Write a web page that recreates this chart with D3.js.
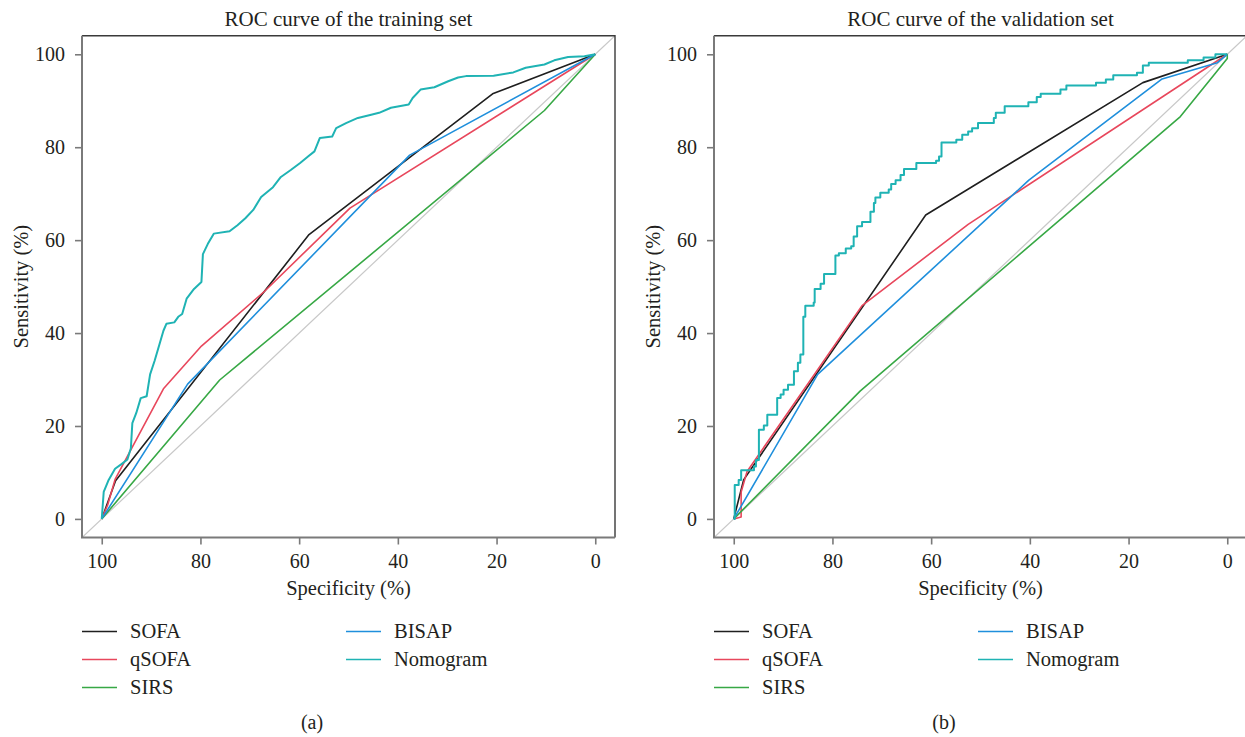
<!DOCTYPE html>
<html>
<head>
<meta charset="utf-8">
<script src="https://cdn.jsdelivr.net/npm/d3@7"></script>
<style>
  body { margin: 0; background: #fff; }
  svg { display: block; }
  text { font-family: "Liberation Serif", "Times New Roman", serif; fill: #231f20; }
</style>
</head>
<body>
<div id="chart"></div>
<script>
// Values: [specificity %, sensitivity %]
const seriesNames = ["SOFA", "qSOFA", "SIRS", "BISAP", "Nomogram"]
const seriesColors = ["#1f1f1f", "#e8475c", "#37a845", "#1f8fdc", "#1fb3b4"]
const xTicks = [100, 80, 60, 40, 20, 0]
const yTicks = [0, 20, 40, 60, 80, 100]
const panelTitles = ["ROC curve of the training set", "ROC curve of the validation set"]
const panelCaptions = ["(a)", "(b)"]

// training set
const trainSOFA = [[100, 0], [97.2, 8.2], [58, 61.2], [20.8, 91.5], [0, 100]]
const trainQSOFA = [[100, 0], [98.8, 3], [97.3, 8.5], [87.5, 28], [79.8, 37.2], [67, 49], [49.7, 66.9], [0, 100]]
const trainSIRS = [[100, 0], [76.1, 29.9], [10.3, 87.9], [0, 100]]
const trainBISAP = [[100, 0], [82.6, 29], [37.6, 78.3], [0, 100]]
const trainNomogram = [[100, 0], [99.6, 5.8], [98.6, 8.4], [97.3, 10.8], [96, 11.8], [94.8, 12.8],
  [94.1, 15.2], [93.8, 20.6], [93, 22.8], [92.1, 26], [90.9, 26.4], [90.2, 31.1], [89.3, 34],
  [88.3, 37.6], [87.5, 40.5], [86.9, 42], [85.3, 42.3], [84.5, 43.5], [83.7, 44.1], [82.8, 47.4],
  [81.3, 49.5], [79.8, 51], [79.5, 57], [78.5, 59.2], [77.3, 61.4], [74.1, 61.9], [72.5, 63.2],
  [70.9, 64.7], [69.3, 66.5], [67.7, 69.3], [65.3, 71.4], [63.7, 73.6], [61.7, 75.1], [59.8, 76.6],
  [58.2, 78], [56.9, 79.1], [55.8, 82], [53.3, 82.3], [52.5, 84.1], [50.5, 85.2], [48.1, 86.3],
  [45.4, 87], [43.8, 87.4], [41.4, 88.5], [37.8, 89.2], [37, 90.6], [35.4, 92.4], [32.6, 92.9],
  [29.8, 94.2], [27.8, 95], [26.2, 95.3], [20.6, 95.4], [16.6, 96.1], [14.1, 97.1], [10.3, 97.8],
  [8.3, 98.7], [5.5, 99.4], [2.2, 99.6], [0, 100]]

// validation set
const valSOFA = [[100, 0], [98, 8.4], [61.1, 65.4], [17.1, 93.9], [0, 100]]
const valQSOFA = [[100, 0], [98.5, 0.4], [98.5, 5.8], [97.3, 10.2], [74, 45.9], [52.5, 63.4], [0, 100]]
const valSIRS = [[100, 0], [74.4, 27.5], [9.5, 86.6], [0, 99.1], [0, 100]]
const valBISAP = [[100, 0], [83, 31.1], [40.2, 72.9], [13.2, 94.7], [2, 98.2], [0, 100]]
const valNomogram = [[100, 0], [99.8, 7.3], [99, 8.4], [98.5, 10.5], [95.9, 11.3], [95.5, 12.7],
  [94.9, 19.2], [93.9, 20.1], [93.2, 22.4], [91.2, 26], [90.5, 26.8], [89.9, 27.8], [89, 28.9],
  [87.8, 31.8], [87, 33.6], [86.5, 35.4], [85.9, 43.5], [85.5, 45.9], [83.8, 46.6], [83.6, 49.5],
  [82.4, 50.6], [81.7, 52.7], [79.4, 56.7], [78.7, 57.2], [77.3, 58.2], [76.2, 58.7], [75.7, 60.8],
  [75, 63], [74, 63.9], [72.3, 66.1], [71.6, 68], [71.3, 69.2], [70.3, 70.2], [68.6, 70.9],
  [68.1, 72.1], [67.2, 72.9], [66.2, 74], [65.5, 75.3], [63, 76.6], [59, 77.1], [58.4, 78],
  [57.9, 81], [54.9, 81.6], [53.7, 82.7], [52.5, 83.4], [51.7, 84.1], [50.5, 85.2], [47.3, 86.3],
  [46.9, 87.4], [45.1, 88.8], [40.3, 89.7], [38.6, 90.8], [37.8, 91.5], [33.8, 92.4], [32.6, 93.3],
  [26.6, 93.9], [24.6, 94.6], [23.1, 95.5], [18.3, 96], [17.1, 97.6], [15.9, 98.2], [8, 98.7],
  [4.8, 99.3], [2.4, 100], [0, 100]]

const panels = [
  { x0: 82, series: [trainSOFA, trainQSOFA, trainSIRS, trainBISAP, trainNomogram], nomoCurve: d3.curveLinear },
  { x0: 714, series: [valSOFA, valQSOFA, valSIRS, valBISAP, valNomogram], nomoCurve: d3.curveStepAfter }
]

const W = 1245, H = 737
const frameW = 533
const plotTop = 35.7, plotBottom = 537.5

const svg = d3.select("#chart").append("svg")
    .attr("width", W)
    .attr("height", H)

const y = d3.scaleLinear().domain([-4, 104]).range([plotBottom, plotTop])

panels.forEach((p, i) => {
  const x = d3.scaleLinear().domain([104, -4]).range([p.x0, p.x0 + frameW])
  const g = svg.append("g")

  const clipId = "clip" + i
  g.append("clipPath").attr("id", clipId)
    .append("rect")
    .attr("x", p.x0).attr("y", plotTop)
    .attr("width", frameW).attr("height", plotBottom - plotTop)

  // title
  g.append("text")
    .attr("x", p.x0 + frameW / 2)
    .attr("y", 26)
    .attr("text-anchor", "middle")
    .style("font-size", "21px")
    .text(panelTitles[i])

  // reference diagonal
  g.append("line")
    .attr("clip-path", "url(#" + clipId + ")")
    .attr("x1", x(104)).attr("y1", y(-4))
    .attr("x2", x(-4)).attr("y2", y(104))
    .attr("stroke", "#c8c8c8")
    .attr("stroke-width", 1.2)

  // curves
  p.series.forEach((pts, k) => {
    const line = d3.line()
      .x(d => x(d[0]))
      .y(d => y(d[1]))
      .curve(k === 4 ? p.nomoCurve : d3.curveLinear)
    g.append("path")
      .datum(pts)
      .attr("clip-path", "url(#" + clipId + ")")
      .attr("d", line)
      .attr("fill", "none")
      .attr("stroke", seriesColors[k])
      .attr("stroke-width", k === 4 ? 2 : 1.6)
      .attr("stroke-linejoin", "round")
  })

  // frame
  g.append("path")
    .attr("d", `M${p.x0},${plotTop}H${p.x0 + frameW}V${plotBottom}`)
    .attr("fill", "none")
    .attr("stroke", "#3a3a3a")
    .attr("stroke-width", 1.4)
  g.append("path")
    .attr("d", `M${p.x0},${plotTop}V${plotBottom}H${p.x0 + frameW}`)
    .attr("fill", "none")
    .attr("stroke", "#7a7a7a")
    .attr("stroke-width", 2)

  // axes
  const xAxis = g.append("g")
    .attr("transform", `translate(0,${plotBottom})`)
    .call(d3.axisBottom(x).tickValues(xTicks).tickSize(7).tickPadding(9).tickSizeOuter(0))
  const yAxis = g.append("g")
    .attr("transform", `translate(${p.x0},0)`)
    .call(d3.axisLeft(y).tickValues(yTicks).tickSize(7).tickPadding(10).tickSizeOuter(0))
  ;[xAxis, yAxis].forEach(a => {
    a.select(".domain").remove()
    a.selectAll("line").attr("stroke", "#7a7a7a").attr("stroke-width", 1.6)
    a.selectAll("text")
      .style("font-family", '"Liberation Serif", "Times New Roman", serif')
      .style("font-size", "20px")
      .attr("fill", "#231f20")
  })

  // axis titles
  g.append("text")
    .attr("x", p.x0 + frameW / 2)
    .attr("y", 595)
    .attr("text-anchor", "middle")
    .style("font-size", "20.5px")
    .text("Specificity (%)")
  g.append("text")
    .attr("transform", `translate(${p.x0 - 54},${(plotTop + plotBottom) / 2}) rotate(-90)`)
    .attr("text-anchor", "middle")
    .style("font-size", "20.5px")
    .text("Sensitivity (%)")

  // legend
  const rowsY = [631.5, 659.5, 687.5]
  seriesNames.forEach((name, k) => {
    const col = k < 3 ? 0 : 1
    const row = k < 3 ? k : k - 3
    const lx = p.x0 + (col === 0 ? 0 : 264)
    const ly = rowsY[row]
    g.append("line")
      .attr("x1", lx).attr("x2", lx + 35)
      .attr("y1", ly).attr("y2", ly)
      .attr("stroke", seriesColors[k])
      .attr("stroke-width", 1.6)
    g.append("text")
      .attr("x", lx + 48)
      .attr("y", ly)
      .attr("dy", "0.3em")
      .style("font-size", "20.5px")
      .text(name)
  })

  // caption
  g.append("text")
    .attr("x", p.x0 + 230)
    .attr("y", 723)
    .attr("dy", "0.3em")
    .attr("text-anchor", "middle")
    .style("font-size", "20px")
    .text(panelCaptions[i])
})
</script>
</body>
</html>
